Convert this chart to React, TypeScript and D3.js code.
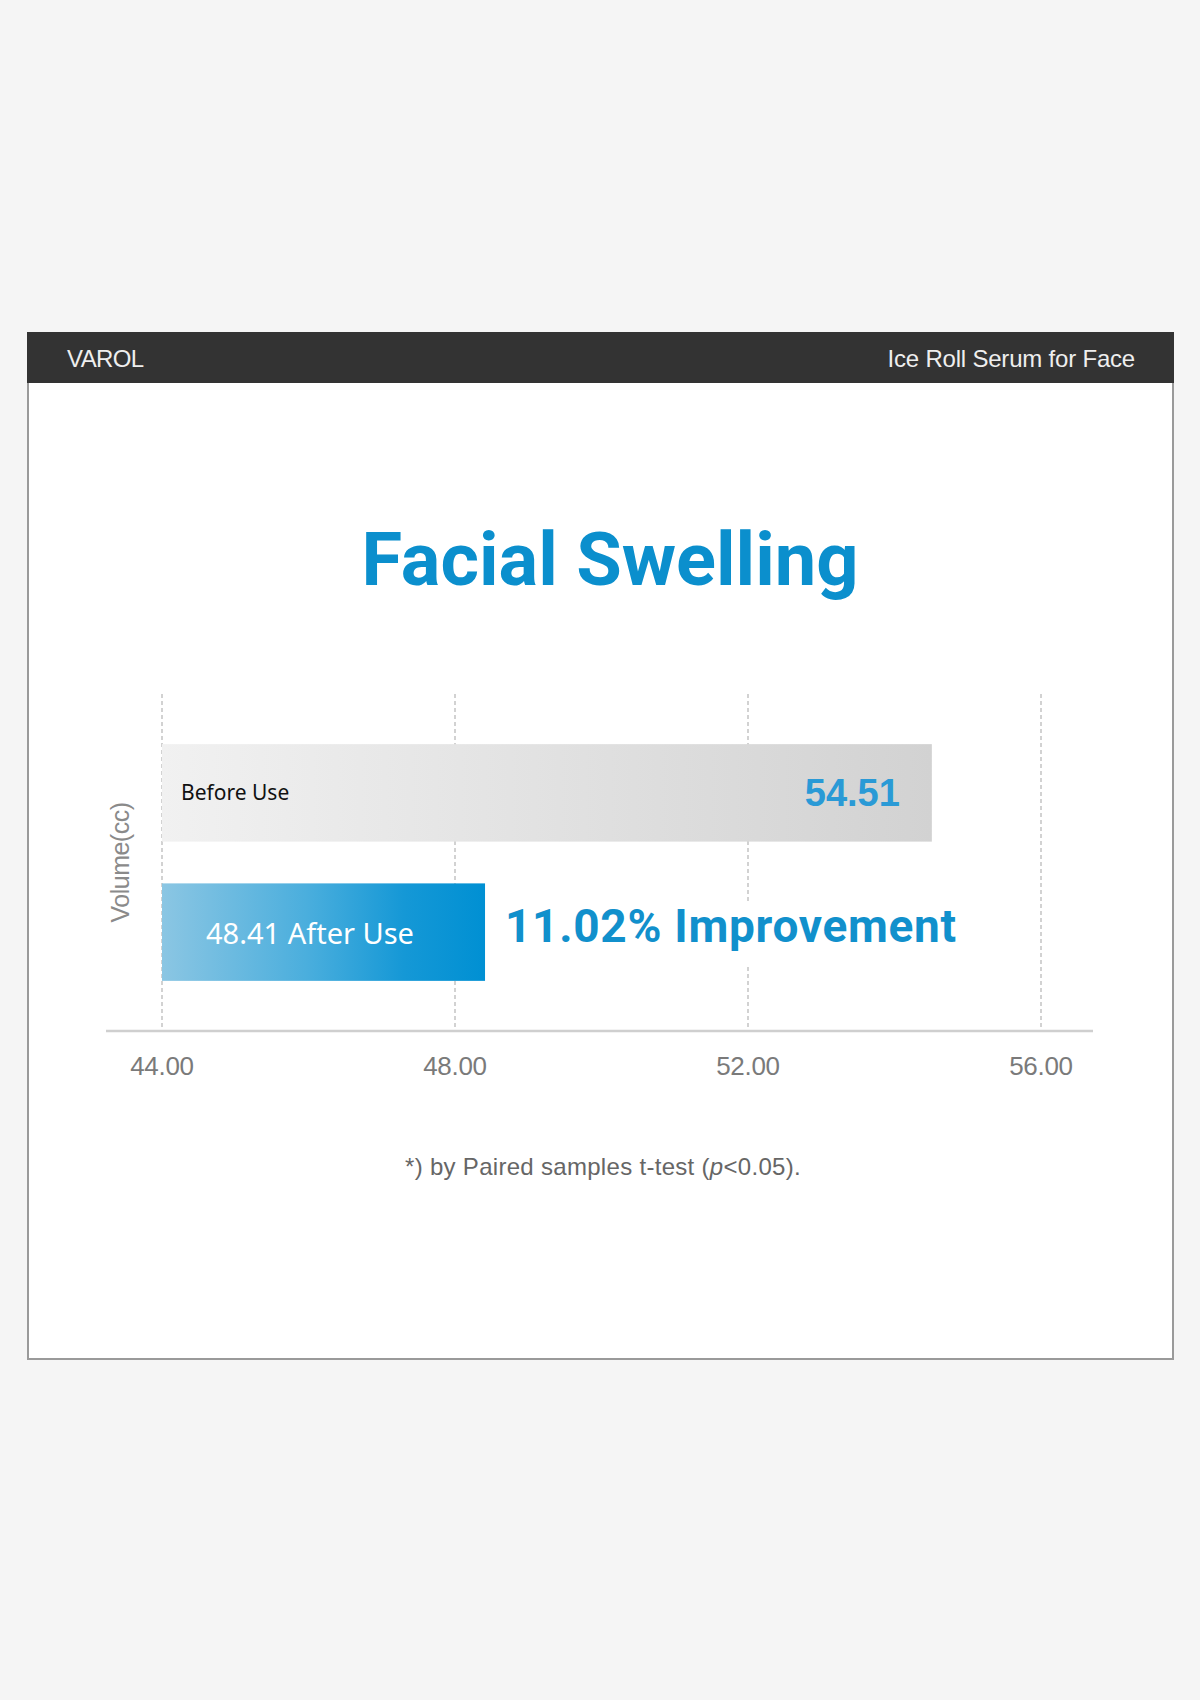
import React from "react";
import * as d3 from "d3";

const categories = ["Before Use", "After Use"];
const values = [54.51, 48.41];
const tickValues = [44, 48, 52, 56];
const improvementLabel = "11.02% Improvement";
const brand = "VAROL";
const product = "Ice Roll Serum for Face";
const title = "Facial Swelling";
const axisTitle = "Volume(cc)";

export default function App() {
  const W = 1200;
  const H = 1700;
  const x = d3.scaleLinear().domain([44, 56]).range([162, 1041]);
  const y = d3
    .scaleBand<string>()
    .domain(categories)
    .range([694, 1031])
    .paddingInner(0.3)
    .paddingOuter(0.36);
  const bw = y.bandwidth();
  const cBefore = (y(categories[0]) as number) + bw / 2;
  const cAfter = (y(categories[1]) as number) + bw / 2;

  return (
    <svg
      width={W}
      height={H}
      viewBox={`0 0 ${W} ${H}`}
      style={{ position: "absolute", left: 0, top: 0, display: "block" }}
    >
      <defs>
        <linearGradient id="gBefore" x1="0" x2="1" y1="0" y2="0">
          <stop offset="0%" stopColor="#f1f1f1" />
          <stop offset="100%" stopColor="#d2d2d2" />
        </linearGradient>
        <linearGradient id="gAfter" x1="0" x2="1" y1="0" y2="0">
          <stop offset="0%" stopColor="#8bc6e3" />
          <stop offset="45%" stopColor="#4aaedd" />
          <stop offset="75%" stopColor="#1598d6" />
          <stop offset="100%" stopColor="#0090d3" />
        </linearGradient>
      </defs>
      <rect x={0} y={0} width={W} height={H} fill="#f5f5f5" />
      {/* card */}
      <rect x={28} y={333} width={1145} height={1026} fill="#ffffff" stroke="#9a9a9a" strokeWidth={2} />
      <rect x={27} y={332} width={1147} height={51} fill="#333333" />
      <text
        x={67}
        y={367}
        fill="#eeeeee"
        fontFamily="'Liberation Sans', Arial, sans-serif"
        fontSize={24}
        letterSpacing={-0.6}
      >
        {brand}
      </text>
      <text
        x={1135}
        y={367}
        textAnchor="end"
        fill="#eeeeee"
        fontFamily="'Liberation Sans', Arial, sans-serif"
        fontSize={24}
        letterSpacing={-0.2}
      >
        {product}
      </text>

      <text
        x={610}
        y={585}
        textAnchor="middle"
        fill="#0b8fcd"
        fontFamily="Roboto, sans-serif"
        fontWeight={700}
        fontSize={74}
      >
        {title}
      </text>

      {/* grid lines */}
      {tickValues.map((t) => (
        <line
          key={"g" + t}
          x1={x(t)}
          x2={x(t)}
          y1={694}
          y2={1031}
          stroke="#b5b5b5"
          strokeWidth={1.2}
          strokeDasharray="4 3"
        />
      ))}
      {/* axis line */}
      <line x1={106} x2={1093} y1={1031} y2={1031} stroke="#cfcfcf" strokeWidth={2.5} />
      {tickValues.map((t) => (
        <text
          key={"t" + t}
          x={x(t)}
          y={1075}
          textAnchor="middle"
          fill="#7a7a7a"
          fontFamily="'Liberation Sans', Arial, sans-serif"
          fontSize={26}
          letterSpacing={-0.3}
        >
          {t.toFixed(2)}
        </text>
      ))}

      {/* bars */}
      <rect
        x={x(44)}
        y={y(categories[0])}
        width={x(values[0]) - x(44)}
        height={bw}
        fill="url(#gBefore)"
      />
      <rect
        x={x(44)}
        y={y(categories[1])}
        width={x(values[1]) - x(44)}
        height={bw}
        fill="url(#gAfter)"
      />

      <text
        x={x(44) + 19}
        y={cBefore + 7}
        fill="#111111"
        fontFamily="'Noto Sans', 'Open Sans', sans-serif"
        fontSize={21}
      >
        {categories[0]}
      </text>
      <text
        x={x(values[0]) - 32}
        y={cBefore + 13}
        textAnchor="end"
        fill="#2a9ad6"
        fontFamily="'Liberation Sans', Arial, sans-serif"
        fontWeight={700}
        fontSize={38}
      >
        {values[0].toFixed(2)}
      </text>
      <text
        x={x(44) + 44}
        y={cAfter + 12}
        fill="#ffffff"
        fontFamily="'Noto Sans', 'Open Sans', sans-serif"
        fontSize={29}
      >
        {values[1].toFixed(2) + " " + categories[1]}
      </text>

      {/* improvement label with white backing interrupting grid line */}
      <rect x={x(values[1]) + 14} y={cAfter - 31} width={470} height={63} fill="#ffffff" />
      <text
        x={x(values[1]) + 20}
        y={cAfter + 10}
        fill="#1190cc"
        fontFamily="Roboto, sans-serif"
        fontWeight={700}
        fontSize={46}
        letterSpacing={0.7}
      >
        {improvementLabel}
      </text>

      <text
        transform={`translate(122, ${(cBefore + cAfter) / 2}) rotate(-90)`}
        textAnchor="middle"
        dominantBaseline="middle"
        fill="#8a8a8a"
        fontFamily="'Liberation Sans', Arial, sans-serif"
        fontSize={25}
        letterSpacing={-0.5}
      >
        {axisTitle}
      </text>

      <text
        x={603}
        y={1175}
        textAnchor="middle"
        fill="#666666"
        fontFamily="'Liberation Sans', Arial, sans-serif"
        fontSize={24}
        letterSpacing={0.3}
      >
        {"*) by Paired samples t-test ("}
        <tspan fontStyle="italic">p</tspan>
        {"<0.05)."}
      </text>
    </svg>
  );
}
